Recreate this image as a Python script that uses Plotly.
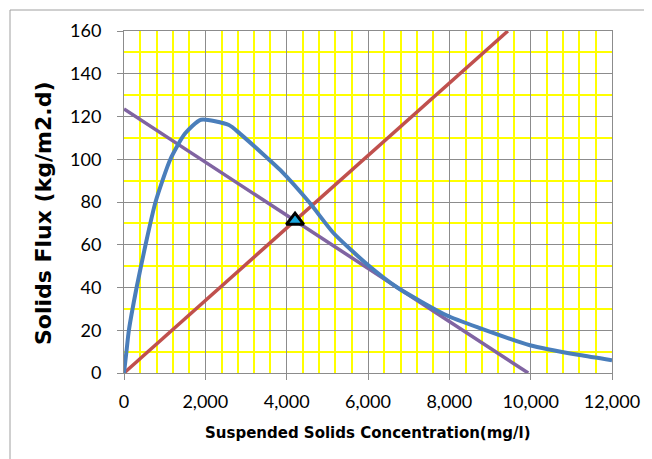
import plotly.graph_objects as go

# Settling flux curve (blue)
flux_x = [0, 60, 120, 310, 530, 775, 1140, 1500, 1893, 2580, 2850, 3500, 3840,
          4570, 5150, 5970, 6720, 7930, 8750, 9980, 11200, 12000]
flux_y = [0, 10, 20, 40, 60, 80, 100, 112, 118.5, 116, 112, 101, 95,
          79.5, 65.5, 51, 40, 27, 21, 13, 8.4, 6]

# Underflow line (red)
red_x = [0, 9440]
red_y = [0, 160]

# Operating line (purple)
purple_x = [0, 9940]
purple_y = [123.5, 0]

# Operating point
op_x = [4206]
op_y = [71.3]

TICKFONT = "Lato, Liberation Sans, sans-serif"
TITLEFONT = "DejaVu Sans, sans-serif"

fig = go.Figure()
fig.add_trace(go.Scatter(x=purple_x, y=purple_y, mode="lines",
                         line=dict(color="#8064A2", width=3.5), showlegend=False))
fig.add_trace(go.Scatter(x=red_x, y=red_y, mode="lines",
                         line=dict(color="#C0504D", width=3.5), showlegend=False))
fig.add_trace(go.Scatter(x=flux_x, y=flux_y, mode="lines",
                         line=dict(color="#4A7EBB", width=4, shape="spline", smoothing=0.6),
                         showlegend=False))
fig.add_trace(go.Scatter(x=op_x, y=op_y, mode="markers",
                         marker=dict(symbol="triangle-up", size=15, color="#1BA8E0",
                                     line=dict(color="black", width=3)),
                         showlegend=False))

# page body has an 8px default margin, so figure is offset by 8px
fig.update_layout(
    width=644, height=451,
    margin=dict(l=116, r=40, t=23, b=86),
    paper_bgcolor="white", plot_bgcolor="white",
    font=dict(family=TICKFONT, color="black", size=18),
    xaxis=dict(range=[0, 12000], dtick=2000, tickformat=",d",
               showgrid=True, gridcolor="#8c8c8c", gridwidth=1,
               minor=dict(dtick=400, showgrid=True, gridcolor="#FFFF00", gridwidth=1.5),
               showline=True, linecolor="#8c8c8c", mirror=True,
               ticks="outside", ticklen=6, tickcolor="#8c8c8c",
               ticklabelstandoff=6, zeroline=False,
               tickfont=dict(size=18, family=TICKFONT, color="black")),
    yaxis=dict(range=[0, 160], dtick=20,
               showgrid=True, gridcolor="#8c8c8c", gridwidth=1,
               minor=dict(dtick=10, showgrid=True, gridcolor="#FFFF00", gridwidth=1.5),
               showline=True, linecolor="#8c8c8c", mirror=True,
               ticks="outside", ticklen=6, tickcolor="#8c8c8c",
               ticklabelstandoff=12, zeroline=False,
               tickfont=dict(size=18, family=TICKFONT, color="black")),
    annotations=[
        dict(text="<b>Solids Flux (kg/m2.d)</b>", textangle=-90, xref="paper", yref="paper",
             x=(43 - 124) / 488, y=(373 - 214) / 342, showarrow=False,
             font=dict(size=22, family=TITLEFONT, color="black"),
             xanchor="center", yanchor="middle"),
        dict(text="<b>Suspended Solids Concentration(mg/l)</b>", xref="paper", yref="paper",
             x=(368 - 124) / 488, y=(373 - 433) / 342, showarrow=False,
             font=dict(size=15, family=TITLEFONT, color="black"),
             xanchor="center", yanchor="middle"),
    ],
    shapes=[dict(type="rect", xref="paper", yref="paper",
                 x0=(10 - 124) / 488, x1=(670 - 124) / 488,
                 y0=(373 - 480) / 342, y1=(373 - 10) / 342,
                 line=dict(color="#a0a0a0", width=1), layer="below")],
)

fig.write_html("out.html")
